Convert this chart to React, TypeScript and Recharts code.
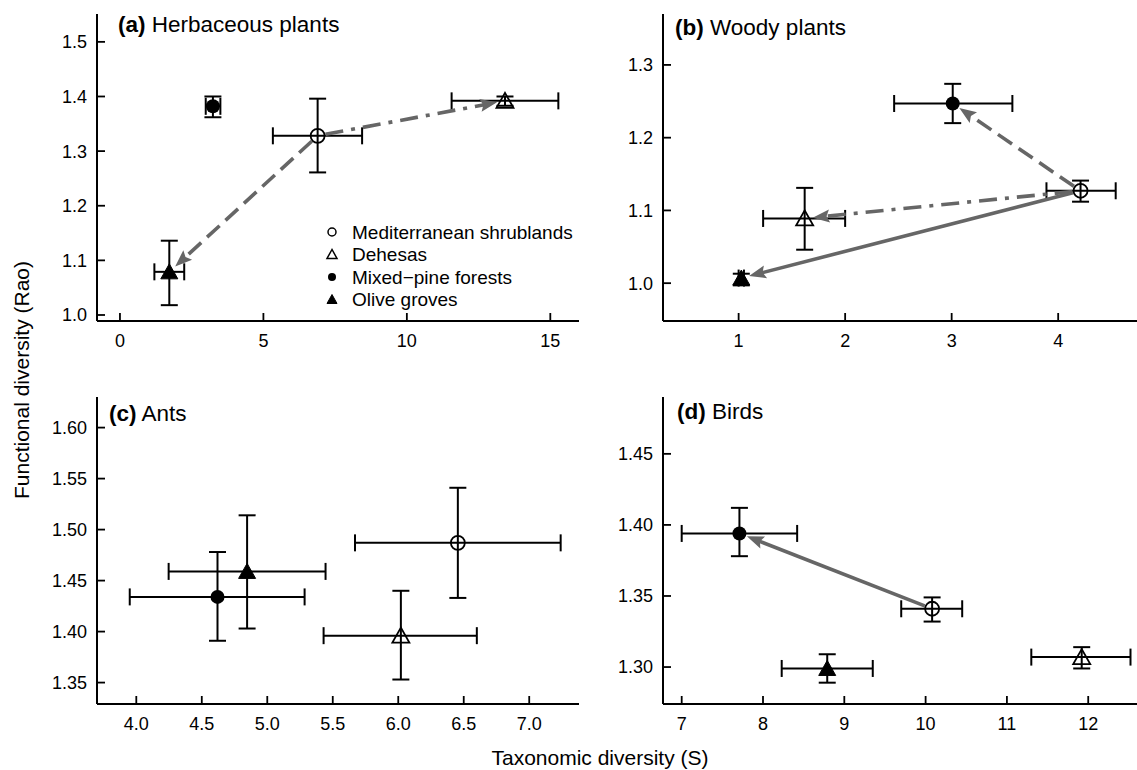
import React from 'react';
import { ScatterChart, Scatter, XAxis, YAxis, ErrorBar, Legend } from 'recharts';

// habitat order is the same in every panel
const habitats = ['Mediterranean shrublands', 'Dehesas', 'Mixed\u2212pine forests', 'Olive groves'];

// (a) Herbaceous plants
const herbX = [6.89, 13.42, 3.24, 1.72];
const herbXLow = [5.33, 11.56, 2.99, 1.2];
const herbXHigh = [8.44, 15.28, 3.5, 2.24];
const herbY = [1.328, 1.392, 1.382, 1.079];
const herbYLow = [1.261, 1.383, 1.362, 1.018];
const herbYHigh = [1.396, 1.4, 1.4, 1.136];

// (b) Woody plants
const woodyX = [4.21, 1.62, 3.01, 1.025];
const woodyXLow = [3.89, 1.23, 2.46, 1.0];
const woodyXHigh = [4.54, 2.0, 3.57, 1.05];
const woodyY = [1.127, 1.089, 1.247, 1.007];
const woodyYLow = [1.112, 1.046, 1.22, 0.997];
const woodyYHigh = [1.141, 1.131, 1.274, 1.013];

// (c) Ants
const antsX = [6.455, 6.02, 4.62, 4.846];
const antsXLow = [5.67, 5.43, 3.95, 4.247];
const antsXHigh = [7.24, 6.6, 5.285, 5.445];
const antsY = [1.487, 1.396, 1.434, 1.459];
const antsYLow = [1.433, 1.353, 1.391, 1.403];
const antsYHigh = [1.541, 1.44, 1.478, 1.514];

// (d) Birds
const birdsX = [10.08, 11.92, 7.71, 8.79];
const birdsXLow = [9.7, 11.3, 7.0, 8.23];
const birdsXHigh = [10.45, 12.52, 8.42, 9.35];
const birdsY = [1.341, 1.307, 1.394, 1.299];
const birdsYLow = [1.332, 1.299, 1.378, 1.289];
const birdsYHigh = [1.349, 1.314, 1.412, 1.309];

// arrows: [from habitat, to habitat, line style]
const herbArrows = [[0, 3, 'dashed'], [0, 1, 'dashdot']];
const woodyArrows = [[0, 2, 'dashed'], [0, 1, 'dashdot'], [0, 3, 'solid']];
const antsArrows: any[] = [];
const birdsArrows = [[0, 2, 'solid']];

// ticks
const herbXTicks = [0, 5, 10, 15];
const herbYTicks = [1.0, 1.1, 1.2, 1.3, 1.4, 1.5];
const woodyXTicks = [1, 2, 3, 4];
const woodyYTicks = [1.0, 1.1, 1.2, 1.3];
const antsXTicks = [4.0, 4.5, 5.0, 5.5, 6.0, 6.5, 7.0];
const antsYTicks = [1.35, 1.4, 1.45, 1.5, 1.55, 1.6];
const birdsXTicks = [7, 8, 9, 10, 11, 12];
const birdsYTicks = [1.3, 1.35, 1.4, 1.45];

const ARROW = '#666666';
const FONT = '"Liberation Sans", Arial, Helvetica, sans-serif';

const buildRows = (x: number[], xl: number[], xh: number[], y: number[], yl: number[], yh: number[]) =>
  x.map((v, i) => ({
    x: v,
    y: y[i],
    ex: [v - xl[i], xh[i] - v],
    ey: [y[i] - yl[i], yh[i] - y[i]],
  }));

const Marker = ({ kind, cx, cy, small }: any) => {
  if (cx == null || cy == null) return <g />;
  const r = small ? 4 : 7;
  const hw = small ? 5 : 8.5;
  const up = small ? 5 : 8;
  const down = small ? 4 : 7;
  const tri = `${cx},${cy - up} ${cx - hw},${cy + down} ${cx + hw},${cy + down}`;
  switch (kind) {
    case 0:
      return <circle cx={cx} cy={cy} r={r} fill="none" stroke="#000" strokeWidth={small ? 1.5 : 1.8} />;
    case 1:
      return <polygon points={tri} fill="none" stroke="#000" strokeWidth={small ? 1.5 : 1.8} strokeLinejoin="miter" />;
    case 2:
      return <circle cx={cx} cy={cy} r={r} fill="#000" />;
    default:
      return <polygon points={tri} fill="#000" stroke="#000" strokeWidth={1} />;
  }
};

const Arrow = ({ points, kind }: any) => {
  if (!points || points.length < 2) return <g />;
  const [p, q] = points;
  const dx = q.x - p.x;
  const dy = q.y - p.y;
  const len = Math.hypot(dx, dy) || 1;
  const ux = dx / len;
  const uy = dy / len;
  const startGap = 8;
  const endGap = 8;
  const headLen = 17;
  const headHalf = 6.5;
  const sx = p.x + ux * startGap;
  const sy = p.y + uy * startGap;
  const tx = q.x - ux * endGap;
  const ty = q.y - uy * endGap;
  const bx = tx - ux * headLen;
  const by = ty - uy * headLen;
  const dash = kind === 'dashed' ? '17 8' : kind === 'dashdot' ? '18 8 4 8' : undefined;
  const head = `${tx},${ty} ${bx - uy * headHalf},${by + ux * headHalf} ${bx + ux * 3},${by + uy * 3} ${bx + uy * headHalf},${by - ux * headHalf}`;
  return (
    <g>
      <line x1={sx} y1={sy} x2={bx + ux * 4} y2={by + uy * 4} stroke={ARROW} strokeWidth={3.6} strokeDasharray={dash} />
      <polygon points={head} fill={ARROW} />
    </g>
  );
};

const LegendBox = () => (
  <svg width={240} height={92} style={{ overflow: 'visible' }}>
    {habitats.map((h, i) => (
      <g key={h}>
        <Marker kind={i} cx={10} cy={11 + i * 22.5} small />
        <text x={30} y={11 + i * 22.5} dy="0.36em" fontSize={19} fill="#000" fontFamily={FONT}>
          {h}
        </text>
      </g>
    ))}
  </svg>
);

const Panel = ({ left, top, width, rightMargin, rows, arrows, xDomain, yDomain, xTicks, yTicks, xFmt, yFmt, legend }: any) => (
  <div style={{ position: 'absolute', left, top }}>
    <ScatterChart width={width} height={360} margin={{ top: 14, right: rightMargin, left: 0, bottom: 0 }}>
      <XAxis
        type="number"
        dataKey="x"
        domain={xDomain}
        ticks={xTicks}
        interval={0}
        allowDataOverflow
        tickFormatter={xFmt}
        height={39}
        axisLine={{ stroke: '#000', strokeWidth: 2 }}
        tickLine={{ stroke: '#000', strokeWidth: 1.8 }}
        tickSize={-8}
        tickMargin={21}
        tick={{ fill: '#000', fontSize: 18 }}
      />
      <YAxis
        type="number"
        dataKey="y"
        domain={yDomain}
        ticks={yTicks}
        interval={0}
        allowDataOverflow
        tickFormatter={yFmt}
        width={97}
        axisLine={{ stroke: '#000', strokeWidth: 2 }}
        tickLine={{ stroke: '#000', strokeWidth: 1.8 }}
        tickSize={-8}
        tickMargin={18}
        tick={{ fill: '#000', fontSize: 18 }}
      />
      {legend && (
        <Legend
          layout="vertical"
          align="center"
          verticalAlign="middle"
          wrapperStyle={{ left: 322, top: 221, width: 240, height: 92 }}
          content={() => <LegendBox />}
        />
      )}
      {arrows.map(([a, b, style]: any, k: number) => (
        <Scatter
          key={'arrow' + k}
          data={[rows[a], rows[b]]}
          shape={() => <g />}
          line={(lp: any) => <Arrow points={lp.points} kind={style} />}
          legendType="none"
          isAnimationActive={false}
        />
      ))}
      {habitats.map((h, i) => (
        <Scatter
          key={h}
          name={h}
          data={[rows[i]]}
          shape={(p: any) => <Marker kind={i} cx={p.cx} cy={p.cy} />}
          isAnimationActive={false}
        >
          <ErrorBar dataKey="ex" direction="x" width={8.5} stroke="#000" strokeWidth={2} />
          <ErrorBar dataKey="ey" direction="y" width={8.5} stroke="#000" strokeWidth={2} />
        </Scatter>
      ))}
    </ScatterChart>
  </div>
);

const fmt0 = (v: number) => String(v);
const fmt1 = (v: number) => v.toFixed(1);
const fmt2 = (v: number) => v.toFixed(2);

const Title = ({ x, y, tag, text }: any) => (
  <text x={x} y={y} fontSize={22.5} fill="#000" fontFamily={FONT}>
    <tspan fontWeight="bold">{tag}</tspan>
    <tspan> {text}</tspan>
  </text>
);

export default function App() {
  const herbRows = buildRows(herbX, herbXLow, herbXHigh, herbY, herbYLow, herbYHigh);
  const woodyRows = buildRows(woodyX, woodyXLow, woodyXHigh, woodyY, woodyYLow, woodyYHigh);
  const antsRows = buildRows(antsX, antsXLow, antsXHigh, antsY, antsYLow, antsYHigh);
  const birdsRows = buildRows(birdsX, birdsXLow, birdsXHigh, birdsY, birdsYLow, birdsYHigh);

  return (
    <div style={{ position: 'absolute', left: 0, top: 0, width: 1137, height: 770, background: '#fff', fontFamily: FONT, overflow: 'hidden' }}>
      <Panel left={0} top={0} width={580} rightMargin={1} rows={herbRows} arrows={herbArrows}
        xDomain={[-0.8, 16]} yDomain={[0.989, 1.551]} xTicks={herbXTicks} yTicks={herbYTicks} xFmt={fmt0} yFmt={fmt1} legend />
      <Panel left={566} top={0} width={571} rightMargin={0} rows={woodyRows} arrows={woodyArrows}
        xDomain={[0.29, 4.74]} yDomain={[0.948, 1.37]} xTicks={woodyXTicks} yTicks={woodyYTicks} xFmt={fmt0} yFmt={fmt1} />
      <Panel left={0} top={383} width={580} rightMargin={1} rows={antsRows} arrows={antsArrows}
        xDomain={[3.7, 7.38]} yDomain={[1.329, 1.63]} xTicks={antsXTicks} yTicks={antsYTicks} xFmt={fmt1} yFmt={fmt2} />
      <Panel left={566} top={383} width={571} rightMargin={0} rows={birdsRows} arrows={birdsArrows}
        xDomain={[6.77, 12.6]} yDomain={[1.274, 1.49]} xTicks={birdsXTicks} yTicks={birdsYTicks} xFmt={fmt0} yFmt={fmt2} />
      <svg width={1137} height={770} style={{ position: 'absolute', left: 0, top: 0, pointerEvents: 'none' }}>
        <Title x={118} y={32} tag="(a)" text="Herbaceous plants" />
        <Title x={675} y={35} tag="(b)" text="Woody plants" />
        <Title x={109} y={421} tag="(c)" text="Ants" />
        <Title x={677} y={419} tag="(d)" text="Birds" />
        <text x={600} y={765} textAnchor="middle" fontSize={21} fill="#000" fontFamily={FONT}>
          Taxonomic diversity (S)
        </text>
        <text x={29} y={380} textAnchor="middle" fontSize={21} fill="#000" fontFamily={FONT} transform="rotate(-90 29 380)">
          Functional diversity (Rao)
        </text>
      </svg>
    </div>
  );
}
